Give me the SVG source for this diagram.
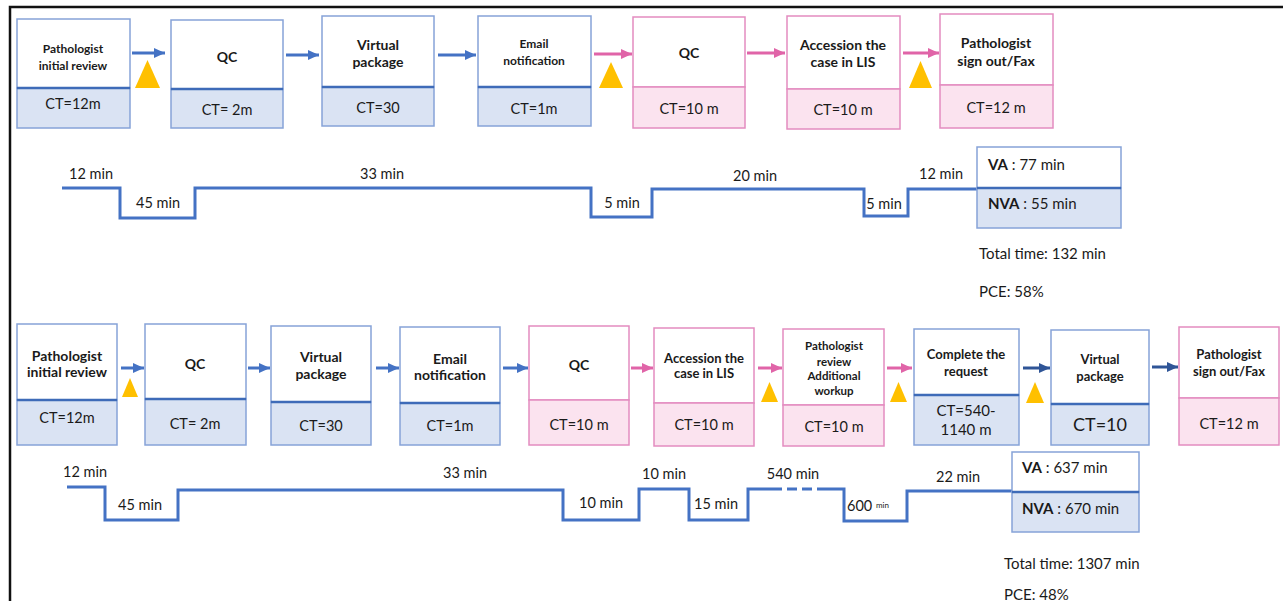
<svg xmlns="http://www.w3.org/2000/svg" width="1283" height="601" viewBox="0 0 1283 601">
<defs>
<style>
text{font-family:Lato,"Liberation Sans",sans-serif;fill:#1a1a1a;dominant-baseline:central;text-anchor:middle}
.t{font-weight:bold;font-size:14px}
.ts{font-weight:bold;font-size:12px}
.tm{font-weight:bold;font-size:13px}
.tx{font-weight:bold;font-size:11.5px}
.ct{font-size:14.5px}
.lbl{font-size:14.5px}
.st{font-size:15px;text-anchor:start}
.b{font-weight:bold}
.bt{fill:#fff;stroke:#86a3d8;stroke-width:1.5}
.bb{fill:#dae3f3;stroke:#86a3d8;stroke-width:1.5}
.bd{stroke:#3e6bb8;stroke-width:2.5}
.pt{fill:#fff;stroke:#e38cc0;stroke-width:1.5}
.pb{fill:#fbe3ef;stroke:#e38cc0;stroke-width:1.5}
.ab{stroke:#4472c4;stroke-width:3;fill:none}
.ap{stroke:#e064a8;stroke-width:3;fill:none}
.ad{stroke:#2f5597;stroke-width:3;fill:none}
.tri{fill:#ffc000}
.tl{stroke:#4472c4;stroke-width:3;fill:none;stroke-linejoin:miter}
</style>
<marker id="mb" markerUnits="userSpaceOnUse" markerWidth="11" markerHeight="10" refX="11" refY="5" orient="auto"><path d="M0,0 L11,5 L0,10 z" fill="#4472c4"/></marker>
<marker id="mp" markerUnits="userSpaceOnUse" markerWidth="11" markerHeight="10" refX="11" refY="5" orient="auto"><path d="M0,0 L11,5 L0,10 z" fill="#e064a8"/></marker>
<marker id="md" markerUnits="userSpaceOnUse" markerWidth="11" markerHeight="10" refX="11" refY="5" orient="auto"><path d="M0,0 L11,5 L0,10 z" fill="#2f5597"/></marker>
</defs>
<rect width="1283" height="601" fill="#fff"/>
<path d="M10,601 L10,7 L1283,7" stroke="#111" stroke-width="2.5" fill="none"/>

<!-- Top row -->
<g id="t1"><rect class="bt" x="17" y="19" width="113" height="69"/><rect class="bb" x="17" y="88" width="113" height="40"/><line class="bd" x1="17" y1="88" x2="130" y2="88"/>
<text class="ts" x="73" y="48">Pathologist</text><text class="ts" x="73" y="65">initial  review</text><text class="ct" x="73" y="103">CT=12m</text></g>
<g id="t2"><rect class="bt" x="171" y="20" width="112" height="69"/><rect class="bb" x="171" y="89" width="112" height="39"/><line class="bd" x1="171" y1="89" x2="283" y2="89"/>
<text class="t" x="227" y="56">QC</text><text class="ct" x="227" y="109">CT= 2m</text></g>
<g id="t3"><rect class="bt" x="322" y="16" width="112" height="71"/><rect class="bb" x="322" y="87" width="112" height="39"/><line class="bd" x1="322" y1="87" x2="434" y2="87"/>
<text class="t" x="378" y="44">Virtual</text><text class="t" x="378" y="61">package</text><text class="ct" x="378" y="107">CT=30</text></g>
<g id="t4"><rect class="bt" x="478" y="16" width="113" height="71"/><rect class="bb" x="478" y="87" width="113" height="39"/><line class="bd" x1="478" y1="87" x2="591" y2="87"/>
<text class="ts" x="534" y="43">Email</text><text class="ts" x="534" y="60">notification</text><text class="ct" x="534" y="108">CT=1m</text></g>
<g id="t5"><rect class="pt" x="633" y="17" width="112" height="70"/><rect class="pb" x="633" y="87" width="112" height="41"/>
<text class="t" x="689" y="52">QC</text><text class="ct" x="689" y="108">CT=10 m</text></g>
<g id="t6"><rect class="pt" x="787" y="16" width="113" height="73"/><rect class="pb" x="787" y="89" width="113" height="40"/>
<text class="t" x="843" y="44">Accession the</text><text class="t" x="843" y="61">case in  LIS</text><text class="ct" x="843" y="109">CT=10 m</text></g>
<g id="t7"><rect class="pt" x="940" y="14" width="113" height="71"/><rect class="pb" x="940" y="85" width="113" height="43"/>
<text class="t" x="996" y="42">Pathologist</text><text class="t" x="996" y="60">sign out/Fax</text><text class="ct" x="996" y="107">CT=12 m</text></g>

<!-- Bottom row -->
<g id="b1"><rect class="bt" x="17" y="324" width="100" height="76"/><rect class="bb" x="17" y="400" width="100" height="45"/><line class="bd" x1="17" y1="400" x2="117" y2="400"/>
<text class="t" x="67" y="355">Pathologist</text><text class="t" x="67" y="371">initial review</text><text class="ct" x="67" y="417">CT=12m</text></g>
<g id="b2"><rect class="bt" x="145" y="324" width="101" height="75"/><rect class="bb" x="145" y="399" width="101" height="46"/><line class="bd" x1="145" y1="399" x2="246" y2="399"/>
<text class="t" x="195" y="363">QC</text><text class="ct" x="195" y="423">CT= 2m</text></g>
<g id="b3"><rect class="bt" x="271" y="326" width="100" height="76"/><rect class="bb" x="271" y="402" width="100" height="43"/><line class="bd" x1="271" y1="402" x2="371" y2="402"/>
<text class="t" x="321" y="356">Virtual</text><text class="t" x="321" y="373">package</text><text class="ct" x="321" y="425">CT=30</text></g>
<g id="b4"><rect class="bt" x="400" y="327" width="100" height="76"/><rect class="bb" x="400" y="403" width="100" height="42"/><line class="bd" x1="400" y1="403" x2="500" y2="403"/>
<text class="t" x="450" y="358">Email</text><text class="t" x="450" y="374">notification</text><text class="ct" x="450" y="425">CT=1m</text></g>
<g id="b5"><rect class="pt" x="529" y="326" width="100" height="74"/><rect class="pb" x="529" y="400" width="100" height="45"/>
<text class="t" x="579" y="364">QC</text><text class="ct" x="579" y="424">CT=10 m</text></g>
<g id="b6"><rect class="pt" x="654" y="328" width="100" height="75"/><rect class="pb" x="654" y="403" width="100" height="43"/>
<text class="tm" x="704" y="358">Accession  the</text><text class="tm" x="704" y="373">case in LIS</text><text class="ct" x="704" y="424">CT=10 m</text></g>
<g id="b7"><rect class="pt" x="783" y="329" width="101" height="76"/><rect class="pb" x="783" y="405" width="101" height="41"/>
<text class="tx" x="834" y="345">Pathologist</text><text class="tx" x="834" y="361">review</text><text class="tx" x="834" y="375">Additional</text><text class="tx" x="834" y="390">workup</text><text class="ct" x="834" y="426">CT=10 m</text></g>
<g id="b8"><rect class="bt" x="914" y="329" width="105" height="66"/><rect class="bb" x="914" y="395" width="105" height="50"/><line class="bd" x1="914" y1="395" x2="1019" y2="395"/>
<text class="tm" x="966" y="354">Complete the</text><text class="tm" x="966" y="371">request</text><text x="966" y="410" style="font-size:15px">CT=540-</text><text x="966" y="429" style="font-size:15px">1140 m</text></g>
<g id="b9"><rect class="bt" x="1051" y="330" width="98" height="74"/><rect class="bb" x="1051" y="404" width="98" height="41"/><line class="bd" x1="1051" y1="404" x2="1149" y2="404"/>
<text class="tm" x="1100" y="359">Virtual</text><text class="tm" x="1100" y="376">package</text><text x="1100" y="424" style="font-size:18px">CT=10</text></g>
<g id="b10"><rect class="pt" x="1179" y="327" width="100" height="71"/><rect class="pb" x="1179" y="398" width="100" height="47"/>
<text class="tm" x="1229" y="354">Pathologist</text><text class="tm" x="1229" y="371">sign out/Fax</text><text class="ct" x="1229" y="423">CT=12 m</text></g>

<!-- connectors -->
<g id="connectors">
<line class="ab" x1="132" y1="53" x2="165" y2="53" marker-end="url(#mb)"/>
<line class="ab" x1="286" y1="55" x2="319" y2="55" marker-end="url(#mb)"/>
<line class="ab" x1="438" y1="55" x2="476" y2="55" marker-end="url(#mb)"/>
<line class="ap" x1="594" y1="54" x2="632" y2="54" marker-end="url(#mp)"/>
<line class="ap" x1="747" y1="53" x2="785" y2="53" marker-end="url(#mp)"/>
<line class="ap" x1="903" y1="53" x2="939" y2="53" marker-end="url(#mp)"/>
<line class="ab" x1="121" y1="368" x2="144" y2="368" marker-end="url(#mb)"/>
<line class="ab" x1="248" y1="368" x2="270" y2="368" marker-end="url(#mb)"/>
<line class="ab" x1="376" y1="368" x2="399" y2="368" marker-end="url(#mb)"/>
<line class="ab" x1="503" y1="368" x2="528" y2="368" marker-end="url(#mb)"/>
<line class="ap" x1="631" y1="368" x2="653" y2="368" marker-end="url(#mp)"/>
<line class="ap" x1="758" y1="368" x2="782" y2="368" marker-end="url(#mp)"/>
<line class="ap" x1="887" y1="368" x2="912" y2="368" marker-end="url(#mp)"/>
<line class="ad" x1="1023" y1="368" x2="1050" y2="368" marker-end="url(#md)"/>
<line class="ad" x1="1152" y1="367" x2="1178" y2="367" marker-end="url(#md)"/>
</g>

<!-- wait triangles -->
<g id="waits">
<polygon class="tri" points="147.5,60 160,88 135,88"/>
<polygon class="tri" points="611,62 623,88 599,88"/>
<polygon class="tri" points="920.5,61 932,88 909,88"/>
<polygon class="tri" points="130,378 138,397 122,397"/>
<polygon class="tri" points="769.5,382 778,402 761,402"/>
<polygon class="tri" points="898.5,382 907,402 890,402"/>
<polygon class="tri" points="1035,382 1044,403 1026,403"/>
</g>

<!-- timeline 1 -->
<g id="timeline1">
<polyline class="tl" points="62,188 120,188 120,218 195,218 195,188 591,188 591,217 652,217 652,189 864,189 864,216 908,216 908,189 977,189"/>
<text class="lbl" x="91" y="173">12 min</text>
<text class="lbl" x="158" y="202">45 min</text>
<text class="lbl" x="382" y="173">33 min</text>
<text class="lbl" x="622" y="202">5 min</text>
<text class="lbl" x="755" y="175">20 min</text>
<text class="lbl" x="884" y="203">5 min</text>
<text class="lbl" x="941" y="173">12 min</text>
</g>
<g id="summary1">
<rect class="bt" x="977" y="147" width="144" height="41"/><rect class="bb" x="977" y="188" width="144" height="40"/><line class="bd" x1="977" y1="188" x2="1121" y2="188"/>
<text class="st" x="988" y="164"><tspan class="b">VA</tspan> : 77 min</text>
<text class="st" x="988" y="203"><tspan class="b">NVA</tspan> : 55 min</text>
<text class="st" x="979" y="253">Total time:  132 min</text>
<text class="st" x="979" y="291">PCE: 58%</text>
</g>

<!-- timeline 2 -->
<g id="timeline2">
<polyline class="tl" points="67,487 105,487 105,520 178,520 178,490 563,490 563,520 639,520 639,489 689,489 689,520 748,520 748,489 772,489"/>
<line class="tl" x1="772" y1="489" x2="823" y2="489" stroke-dasharray="10,5"/>
<polyline class="tl" points="823,489 844,489 844,521 907,521 907,491 1012,491"/>
<text class="lbl" x="85" y="471">12 min</text>
<text class="lbl" x="140" y="504">45 min</text>
<text class="lbl" x="465" y="472">33 min</text>
<text class="lbl" x="601" y="502">10 min</text>
<text class="lbl" x="664" y="473">10 min</text>
<text class="lbl" x="716" y="503">15 min</text>
<text class="lbl" x="793" y="473">540 min</text>
<text class="lbl" x="868" y="505">600 <tspan style="font-size:8px">min</tspan></text>
<text class="lbl" x="958" y="476">22 min</text>
</g>
<g id="summary2">
<rect class="bt" x="1012" y="452" width="127" height="40"/><rect class="bb" x="1012" y="492" width="127" height="40"/><line class="bd" x1="1012" y1="492" x2="1139" y2="492"/>
<text class="st" x="1022" y="467"><tspan class="b">VA</tspan> : 637 min</text>
<text class="st" x="1022" y="508"><tspan class="b">NVA</tspan> : 670 min</text>
<text class="st" x="1004" y="563">Total time:  1307 min</text>
<text class="st" x="1004" y="594">PCE: 48%</text>
</g>
</svg>
